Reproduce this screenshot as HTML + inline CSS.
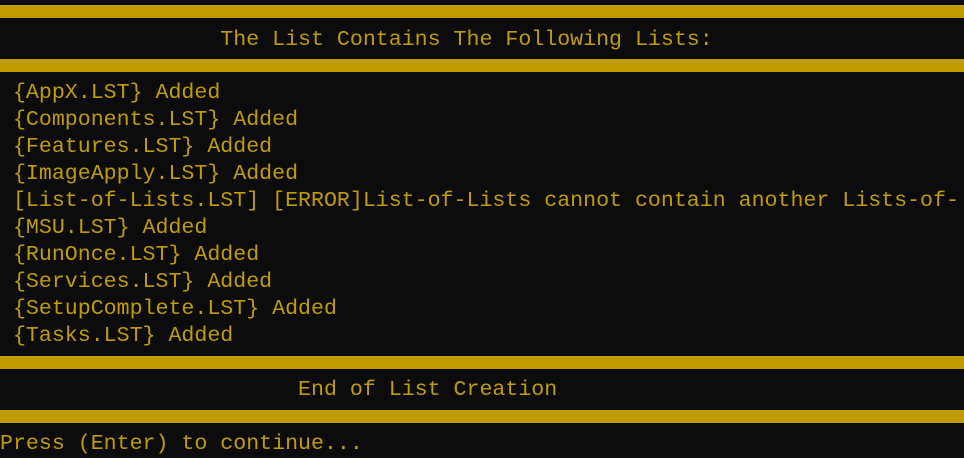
<!DOCTYPE html>
<html><head><style>
body{margin:0;width:964px;height:457px;background:#0c0c0c;overflow:hidden;position:relative;font-family:"Liberation Mono",monospace;font-size:21.6px;color:#c19c00}
.b{position:absolute;left:0;width:964px;height:13px;background:#c19c00}
.t{position:absolute;left:0;white-space:pre;line-height:27px;height:27px}
</style></head><body>
<div class="b" style="top:5px"></div>
<div class="b" style="top:59px"></div>
<div class="b" style="top:356px"></div>
<div class="b" style="top:410px"></div>
<div class="t" style="top:27px">                 The List Contains The Following Lists:</div>
<div class="t" style="top:80px"> {AppX.LST} Added</div>
<div class="t" style="top:107px"> {Components.LST} Added</div>
<div class="t" style="top:134px"> {Features.LST} Added</div>
<div class="t" style="top:161px"> {ImageApply.LST} Added</div>
<div class="t" style="top:188px"> [List-of-Lists.LST] [ERROR]List-of-Lists cannot contain another Lists-of-</div>
<div class="t" style="top:215px"> {MSU.LST} Added</div>
<div class="t" style="top:242px"> {RunOnce.LST} Added</div>
<div class="t" style="top:269px"> {Services.LST} Added</div>
<div class="t" style="top:296px"> {SetupComplete.LST} Added</div>
<div class="t" style="top:323px"> {Tasks.LST} Added</div>
<div class="t" style="top:377px">                       End of List Creation</div>
<div class="t" style="top:431px">Press (Enter) to continue...</div>
</body></html>
